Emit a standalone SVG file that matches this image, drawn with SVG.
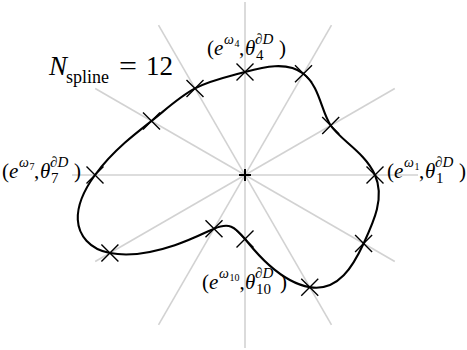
<svg xmlns="http://www.w3.org/2000/svg" xmlns:xlink="http://www.w3.org/1999/xlink" width="467" height="350" viewBox="0 0 467 350">
<defs>
<style>
.spoke{stroke:#d2d2d2;stroke-width:1.6;fill:none}
.curve{stroke:#000;stroke-width:2.1;fill:none;stroke-linejoin:round}
.mk{stroke:#000;stroke-width:1.4;fill:none}
.t{font-family:"Liberation Serif","Times New Roman",serif;font-size:21px;fill:#000}
.i{font-style:italic}
.s{font-size:15px}
.w{font-size:14px}
.ss{font-size:10px}
</style>
<path id="xm" class="mk" d="M-8.5,-8.5L8.5,8.5M-8.5,8.5L8.5,-8.5"/>
</defs>
<rect width="467" height="350" fill="#fff"/>
<g id="spokes">
<line class="spoke" x1="72" y1="175" x2="418" y2="175"/>
<line class="spoke" x1="245" y1="2" x2="245" y2="348"/>
<line class="spoke" x1="394.8" y1="88.5" x2="95.2" y2="261.5"/>
<line class="spoke" x1="331.5" y1="25.2" x2="158.5" y2="324.8"/>
<line class="spoke" x1="158.5" y1="25.2" x2="331.5" y2="324.8"/>
<line class="spoke" x1="95.2" y1="88.5" x2="394.8" y2="261.5"/>
</g>
<g id="connectors">
<path class="curve" d="M375,175 C365,152.3 340.3,139.9 330.7,125.5 C321.1,111.1 319.7,86.5 303.5,73.7 C287.3,60.9 263,67 245,72 C227,77 210.4,80.2 195,88.4 C179.6,96.6 167.3,108.3 151.5,121 C143.6,127.3 134.6,134.2 124.8,142.8 C115.1,151.4 104.6,161.9 95,175 C85.4,188.1 77.05,204.4 77.8,219.8 C78.55,235.2 89.5,249.05 109.9,253 C130.3,256.95 156.2,251.5 174.8,245.2 C193.4,238.9 205.8,232.1 214,228.7 C222.2,225.3 226.8,224.95 231.15,226.7 C235.5,228.4 239.4,232.3 245,239 C250.6,245.7 258.1,255.3 269.15,265.1 C280.2,274.9 295.3,284.7 309.75,287.15 C338.6,292 353.5,265.3 363.6,243.5 C373.7,221.7 385,197.7 375,175Z"/>
</g>
<g id="center">
<path d="M239,175H251M245,169V181" stroke="#000" stroke-width="2" fill="none"/>
</g>
<g id="p1"><use xlink:href="#xm" x="375" y="175"/>
<text class="t" font-family="Liberation Serif, serif" y="178"><tspan x="387">(</tspan><tspan x="394" class="i">e</tspan><tspan x="404" y="167" class="w i">ω</tspan><tspan x="414.5" y="170" class="ss">1</tspan><tspan x="419" y="178">,</tspan><tspan x="425" class="i">θ</tspan><tspan x="435" y="167" class="s i">∂D</tspan><tspan x="436" y="183" class="s">1</tspan><tspan x="459" y="178">)</tspan></text>
</g>
<g id="p2"><use xlink:href="#xm" x="330.7" y="125.5"/></g>
<g id="p3"><use xlink:href="#xm" x="303.5" y="73.7"/></g>
<g id="p4"><use xlink:href="#xm" x="245" y="72"/>
<text class="t" font-family="Liberation Serif, serif" y="55"><tspan x="207">(</tspan><tspan x="214" class="i">e</tspan><tspan x="224" y="44" class="w i">ω</tspan><tspan x="234.5" y="47" class="ss">4</tspan><tspan x="239" y="55">,</tspan><tspan x="245" class="i">θ</tspan><tspan x="255" y="44" class="s i">∂D</tspan><tspan x="256" y="60" class="s">4</tspan><tspan x="279" y="55">)</tspan></text>
</g>
<g id="p5"><use xlink:href="#xm" x="195" y="88.4"/></g>
<g id="p6"><use xlink:href="#xm" x="151.5" y="121"/></g>
<g id="p7"><use xlink:href="#xm" x="95" y="175"/>
<text class="t" font-family="Liberation Serif, serif" y="178"><tspan x="2">(</tspan><tspan x="9" class="i">e</tspan><tspan x="19" y="167" class="w i">ω</tspan><tspan x="29.5" y="170" class="ss">7</tspan><tspan x="34" y="178">,</tspan><tspan x="40" class="i">θ</tspan><tspan x="50" y="167" class="s i">∂D</tspan><tspan x="51" y="183" class="s">7</tspan><tspan x="74" y="178">)</tspan></text>
</g>
<g id="p8"><use xlink:href="#xm" x="109.9" y="253"/></g>
<g id="p9"><use xlink:href="#xm" x="214" y="228.7"/></g>
<g id="p10"><use xlink:href="#xm" x="245" y="239"/>
<text class="t" font-family="Liberation Serif, serif" y="289"><tspan x="202">(</tspan><tspan x="209" class="i">e</tspan><tspan x="219" y="278" class="w i">ω</tspan><tspan x="229.5" y="281" class="ss">10</tspan><tspan x="239.5" y="289">,</tspan><tspan x="245" class="i">θ</tspan><tspan x="255" y="278" class="s i">∂D</tspan><tspan x="256" y="294" class="s">10</tspan><tspan x="280" y="289">)</tspan></text>
</g>
<g id="p11"><use xlink:href="#xm" x="309.75" y="287.15"/></g>
<g id="p12"><use xlink:href="#xm" x="363.6" y="243.5"/></g>
<g id="title">
<text class="t" font-family="Liberation Serif, serif" y="75"><tspan x="49" class="i" style="font-size:27px">N</tspan><tspan x="66" y="83" style="font-size:18px" textLength="43">spline</tspan><tspan x="119" y="75" style="font-size:27px" textLength="18" lengthAdjust="spacingAndGlyphs">=</tspan><tspan x="146" y="75" style="font-size:27px">12</tspan></text>
</g>
</svg>
